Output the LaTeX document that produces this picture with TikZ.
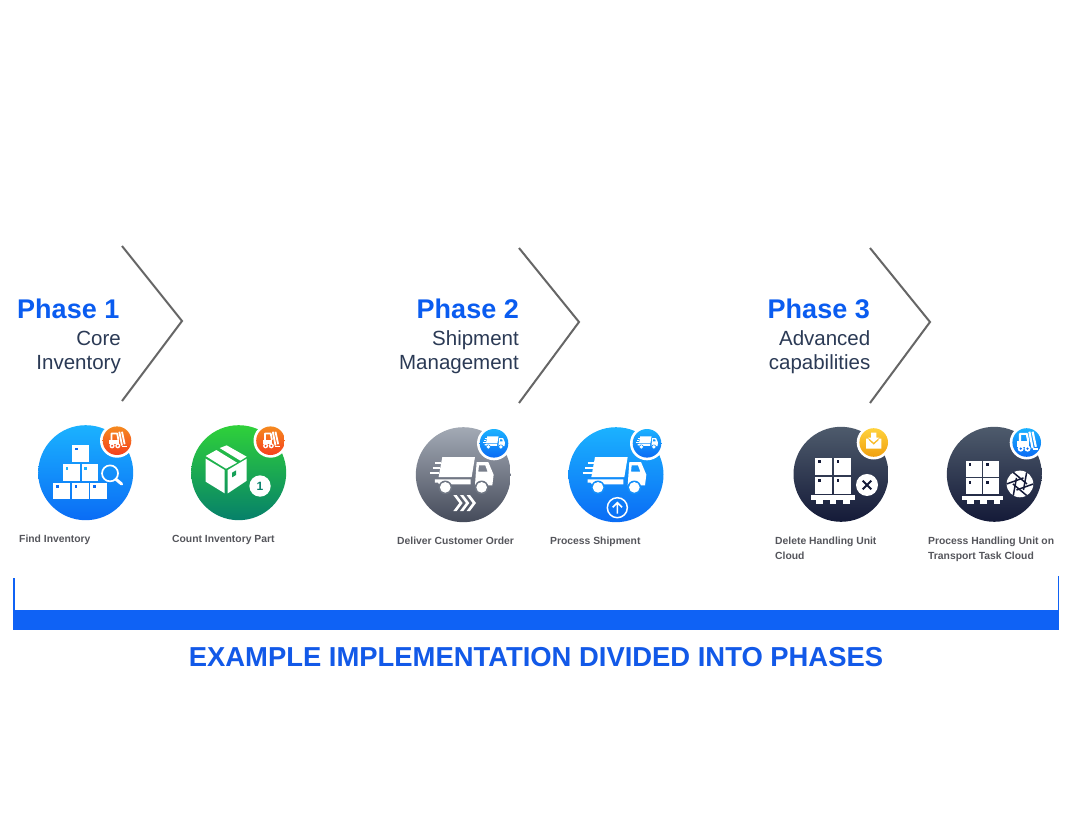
\documentclass[tikz,border=0pt]{standalone}
\usepackage{fontspec}
\setmainfont{Liberation Sans}
\definecolor{brandblue}{HTML}{0F62F5}
\definecolor{titleblue}{HTML}{1259E8}
\definecolor{phaseblue}{HTML}{0A5CF0}
\definecolor{slate}{HTML}{2B3A55}
\definecolor{lblgray}{HTML}{55565C}
\definecolor{chev}{HTML}{666666}
\definecolor{bluetop}{HTML}{1BB2FF}
\definecolor{bluebot}{HTML}{0A6CF5}
\definecolor{greentop}{HTML}{2FD13A}
\definecolor{greenbot}{HTML}{06806A}
\definecolor{graytop}{HTML}{A3AAB5}
\definecolor{graybot}{HTML}{454B5A}
\definecolor{navytop}{HTML}{4E5B6C}
\definecolor{navybot}{HTML}{141A38}
\definecolor{oratop}{HTML}{F58A1F}
\definecolor{orabot}{HTML}{F5401E}
\definecolor{yeltop}{HTML}{FFD23C}
\definecolor{yelbot}{HTML}{F0A010}
\tikzset{
  chevron/.style={draw=chev,line width=2pt,line join=miter},
  phase/.style={anchor=base east,inner sep=0pt,font=\fontsize{27}{27}\selectfont\bfseries,text=phaseblue},
  sub/.style={anchor=base east,inner sep=0pt,font=\fontsize{20.5}{20.5}\selectfont,text=slate},
  lbl/.style={anchor=base west,inner sep=0pt,font=\fontsize{10.35}{10.35}\selectfont\bfseries,text=lblgray},
}
\newcommand\iconbase[4]{\shade[top color=#3,bottom color=#4] (#1,#2) circle (47.5);}
\newcommand\badgebase[4]{\fill[white] (#1,#2) circle (17);
  \shade[top color=#3,bottom color=#4] (#1,#2) circle (14.3);}
\newcommand\crate[5]{\fill[white] (#1,#2) rectangle ++(#3,#4);
  \fill[#5] ($(#1,#2)+(8,8)$) rectangle ++(8,8);}
\newcommand\truck[5]{\begin{scope}[shift={(#1,#2)},scale=#3]
  \fill[white] (-63,-53)--(35,-53)--(25,7)--(-74,7)--cycle;
  \fill[white] (-85,14)--(22,14)--(22,29)--(-72,29)--(-76,24)--(-85,24)--cycle;
  \fill[white,even odd rule] (40,-38)--(75,-38)--(91,0)--(87,32)--(35,32)--cycle
     (47,-28)--(66,-28)--(73,-9)--(45,-9)--cycle;
  \draw[white,line width=#5] (-85,-36)--(-67,-36) (-92,-21)--(-70,-21) (-100,-6)--(-72,-6);
  \fill[#4] (-54,38) circle (20.5) (55,38) circle (20.5);
  \fill[white] (-54,38) circle (16) (55,38) circle (16);
\end{scope}}
\newcommand\forklift[4]{\begin{scope}[shift={(#1,#2)},scale=#3,xshift=-4.5*#3]
  \draw[white,line width=#3*6pt,line join=round] (-17,-3)--(-17,-24)--(2,-24)--(6,-3);
  \fill[white] (-25,-4)--(8,-4)--(8,12)--(-25,12)--cycle;
  \draw[white,line width=#3*6pt] (9,-30)--(18,16) (18,-30)--(27,12);
  \draw[white,line width=#3*6pt] (18,19)--(34,19);
  \fill[white] (-15,17) circle (8.5) (4,17) circle (8.5);
  \fill[#4] (-15,17) circle (3.5) (4,17) circle (3.5);
\end{scope}}
\newcommand\palletbase[8]{\begin{scope}[shift={(#1,#2)},scale=1/3]
  \crate{#3}{#4}{#5}{#6}{#8}
  \crate{#3+#5+5}{#4}{#5}{#6}{#8}
  \crate{#3}{#4+#6+5}{#5}{#6}{#8}
  \crate{#3+#5+5}{#4+#6+5}{#5}{#6}{#8}
  \fill[white] (#3-12,#4+2*#6+9) rectangle ++(2*#5+29,14);
  \foreach \k in {0,1,2} \fill[white] (#3+3+\k*40,#4+2*#6+23) rectangle ++(20,12);
\end{scope}}
\usetikzlibrary{calc}
\begin{document}
\begin{tikzpicture}[x=1pt,y=-1pt]
\useasboundingbox (0,0) rectangle (1072,840);
\fill[white] (0,0) rectangle (1072,840);

% ---- chevrons
\draw[chevron] (122,246)--(182,321)--(122,401);
\draw[chevron] (519,248)--(579,322)--(519,403);
\draw[chevron] (870,248)--(930,322)--(870,403);

% ---- phase titles
\node[phase] (p1) at (119.5,318) {Phase 1};
\node[sub] (p1a) at (121,345) {Core};
\node[sub] (p1b) at (121,369) {Inventory};
\node[phase] (p2) at (519,318) {Phase 2};
\node[sub] (p2a) at (519,345) {Shipment};
\node[sub] (p2b) at (519,369) {Management};
\node[phase] (p3) at (870,318) {Phase 3};
\node[sub] (p3a) at (870.5,345) {Advanced};
\node[sub] (p3b) at (870.5,369) {capabilities};

% ---- Find Inventory
\iconbase{85.7}{472.7}{bluetop}{bluebot}{}
\begin{scope}[shift={(85.7,472.7)},scale=1/3]
  \crate{-40}{-83}{50}{50}{bluebot}
  \crate{-68}{-25}{50}{49}{bluetop}
  \crate{-12}{-25}{50}{49}{bluetop}
  \crate{-97}{30}{51}{50}{bluebot}
  \crate{-41}{30}{51}{50}{bluebot}
  \crate{14}{30}{50}{50}{bluebot}
  \draw[white,line width=1.7pt] (73,2) circle (24);
  \draw[white,line width=3pt,line cap=round] (91,20)--(108,34);
\end{scope}
\badgebase{117}{440.7}{oratop}{orabot}{}
\forklift{117}{440.7}{0.3}{orabot}
\node[lbl] (l1) at (19,542) {Find Inventory};

% ---- Count Inventory Part
\iconbase{238.7}{472.7}{greentop}{greenbot}{}
\begin{scope}[shift={(238.7,472.7)},scale=1/3]
  \fill[white] (-99,-42)--(-42,-8)--(-42,62)--(-99,27)--cycle;
  \fill[white] (-33,-8)--(24,-42)--(24,24)--(-33,62)--cycle;
  \fill[white] (-99,-50)--(-67,-68)--(-5,-30)--(-38,-12)--cycle;
  \fill[white] (-57,-74)--(-36,-82)--(24,-48)--(5,-36)--cycle;
  \fill[greenbot!60!greentop] (-20,0)--(-8,-7)--(-8,7)--(-20,14)--cycle;
  \fill[white] (64,40) circle (32);
\end{scope}
\node[inner sep=0pt,font=\fontsize{12}{12}\selectfont\bfseries,text=greenbot] (one) at (260,486) {1};
\badgebase{270.5}{440.7}{oratop}{orabot}{}
\forklift{270.5}{440.7}{0.3}{orabot}
\node[lbl] (l2) at (172,542) {Count Inventory Part};

% ---- Deliver Customer Order
\iconbase{463.3}{474.7}{graytop}{graybot}{}
\truck{463.3}{474.7}{1/3}{graytop!45!graybot}{1.7pt}
\begin{scope}[shift={(463.3,474.7)},scale=1/3]
  \foreach \q in {-30,-10,10}
    \fill[white] (\q,61)--(\q+10,61)--(\q+28,85)--(\q+10,109)--(\q,109)--(\q+18,85)--cycle;
\end{scope}
\badgebase{494}{443.3}{bluetop}{bluebot}{}
\truck{494.5}{442.5}{0.115}{bluetop!50!bluebot}{0.6pt}
\node[lbl] (l3) at (397,544) {Deliver Customer Order};

% ---- Process Shipment
\iconbase{616}{474.7}{bluetop}{bluebot}{}
\truck{616}{474.7}{1/3}{bluetop!50!bluebot}{1.7pt}
\begin{scope}[shift={(616,474.7)},scale=1/3]
  \draw[white,line width=1.5pt] (4,99) circle (30);
  \draw[white,line width=1.6pt] (4,117)--(4,84) (-10,98)--(4,84)--(18,98);
\end{scope}
\badgebase{647}{443.3}{bluetop}{bluebot}{}
\truck{647.5}{442.5}{0.115}{bluetop!50!bluebot}{0.6pt}
\node[lbl] (l4) at (550,544) {Process Shipment};

% ---- Delete Handling Unit Cloud
\iconbase{841}{474.3}{navytop}{navybot}{}
\palletbase{841}{474.3}{-77}{-50}{51}{52}{}{navybot}
\begin{scope}[shift={(841,474.3)},scale=1/3]
  \fill[white] (78,32) circle (33);
  \draw[navybot,line width=2pt] (65,19)--(91,45) (91,19)--(65,45);
\end{scope}
\badgebase{873.7}{442.5}{yeltop}{yelbot}{}
\begin{scope}[shift={(873.7,442.5)},scale=1/3]
  \fill[white] (-8,-30)--(8,-30)--(8,-15)--(17,-15)--(0,0)--(-17,-15)--(-8,-15)--cycle;
  \fill[white] (-23,-12)--(-15,-12)--(-15,-7)--(0,7)--(15,-7)--(15,-12)--(23,-12)--(23,18)--(-23,18)--cycle;
\end{scope}
\node[lbl] (l5a) at (775,544) {Delete Handling Unit};
\node[lbl] (l5b) at (775,559) {Cloud};

% ---- Process Handling Unit on Transport Task Cloud
\iconbase{994.3}{474.3}{navytop}{navybot}{}
\palletbase{994.3}{474.3}{-85}{-41}{47}{48}{}{navybot}
\begin{scope}[shift={(994.3,474.3)},scale=1/3]
  \fill[white] (77,29) circle (40);
  \foreach \a in {0,60,...,300}
    \draw[navybot,line width=1.5pt] ($(77,29)+(\a:40)$)--($(77,29)+(\a+120:21)$);
\end{scope}
\badgebase{1026.7}{442.5}{bluetop}{bluebot}{}
\forklift{1026.7}{442.5}{0.36}{bluebot}
\node[lbl] (l6a) at (928,544) {Process Handling Unit on};
\node[lbl] (l6b) at (928,559) {Transport Task Cloud};

% ---- bottom bracket
\fill[brandblue] (13,610) rectangle (1059,629.5);
\draw[brandblue,line width=1.6pt] (13.7,578)--(13.7,630);
\draw[brandblue,line width=1.6pt] (1058.5,576)--(1058.5,630);
\node[inner sep=0pt,anchor=base,font=\fontsize{27.4}{27.4}\selectfont\bfseries,text=titleblue] (title) at (536,666) {EXAMPLE IMPLEMENTATION DIVIDED INTO PHASES};
\end{tikzpicture}
\end{document}
